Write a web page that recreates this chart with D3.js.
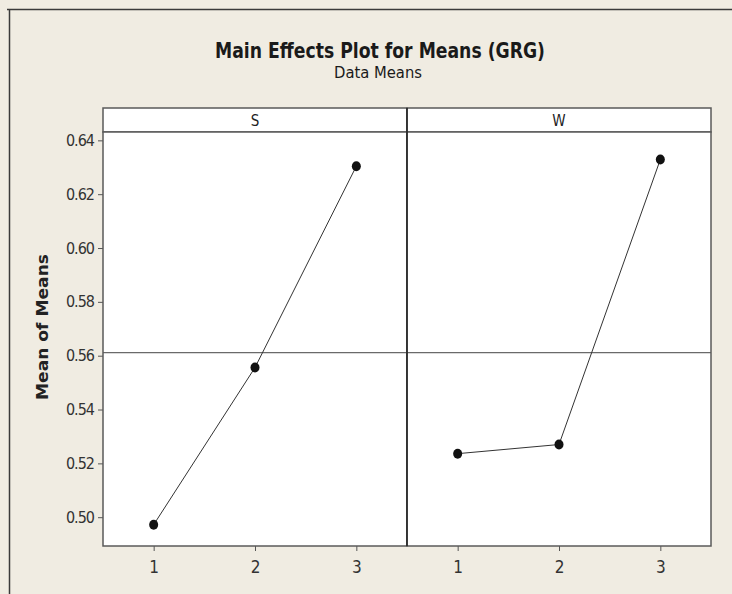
<!DOCTYPE html>
<html>
<head>
<meta charset="utf-8">
<script src="https://cdn.jsdelivr.net/npm/d3@7"></script>
<style>
  body { margin: 0; background: #f0ece2; }
  svg { display: block; }
</style>
</head>
<body>
<div id="chart"></div>
<script>
// factors and their level means
const factors = ["S", "W"];
const levels = [1, 2, 3];
const sMeans = [0.4972, 0.5556, 0.6304];
const wMeans = [0.5236, 0.5270, 0.6329];
const yTicks = [0.50, 0.52, 0.54, 0.56, 0.58, 0.60, 0.62, 0.64];

const seriesByFactor = { S: sMeans, W: wMeans };
const grandMean = d3.mean(sMeans.concat(wMeans));

const width = 732, height = 594;
const margin = { top: 132, left: 103, right: 21, bottom: 48 };
const headerH = 24;
const panelW = (width - margin.left - margin.right) / factors.length;
const tickFont = "DejaVu Sans Condensed, DejaVu Sans";

const svg = d3.select("#chart").append("svg")
  .attr("width", width)
  .attr("height", height);

// outer frame
svg.append("rect").attr("width", width).attr("height", height).attr("fill", "#f0ece2");
svg.append("path")
  .attr("d", `M7,9.5H${width}M9.5,9V${height}`)
  .attr("stroke", "#3a3a3a").attr("stroke-width", 1.5).attr("fill", "none");

// titles
svg.append("text")
  .attr("x", 380).attr("y", 58)
  .attr("text-anchor", "middle")
  .attr("font-family", "DejaVu Sans Condensed, DejaVu Sans").attr("font-weight", "bold")
  .attr("font-size", 22)
  .attr("textLength", 330).attr("lengthAdjust", "spacingAndGlyphs")
  .attr("fill", "#1a1a1a")
  .text("Main Effects Plot for Means (GRG)");

svg.append("text")
  .attr("x", 378).attr("y", 78)
  .attr("text-anchor", "middle")
  .attr("font-family", "DejaVu Sans Condensed, DejaVu Sans")
  .attr("font-size", 15)
  .attr("textLength", 88).attr("lengthAdjust", "spacingAndGlyphs")
  .attr("fill", "#1a1a1a")
  .text("Data Means");

const y = d3.scaleLinear()
  .domain([0.4893, 0.6431])
  .range([height - margin.bottom, margin.top]);

// y axis label
svg.append("text")
  .attr("transform", "translate(48,327) rotate(-90)")
  .attr("text-anchor", "middle")
  .attr("font-family", "DejaVu Sans").attr("font-weight", "bold")
  .attr("font-size", 16)
  .attr("textLength", 146).attr("lengthAdjust", "spacingAndGlyphs")
  .attr("fill", "#222")
  .text("Mean of Means");

// y axis
const yAxis = svg.append("g")
  .attr("transform", `translate(${margin.left},0)`)
  .call(d3.axisLeft(y).tickValues(yTicks).tickFormat(d3.format(".2f")).tickSize(5).tickPadding(4));
yAxis.select(".domain").remove();
yAxis.selectAll(".tick line").attr("stroke", "#555");
yAxis.selectAll(".tick text")
  .attr("font-family", tickFont)
  .attr("font-size", 16).attr("fill", "#333")
  .attr("letter-spacing", -1);

factors.forEach((f, i) => {
  const x0 = margin.left + i * panelW;
  const x = d3.scaleLinear().domain([0.5, 3.5]).range([x0, x0 + panelW]);
  const g = svg.append("g");

  // header strip
  g.append("rect")
    .attr("x", x0).attr("y", margin.top - headerH)
    .attr("width", panelW).attr("height", headerH)
    .attr("fill", "#fff").attr("stroke", "#5a5a5a").attr("stroke-width", 1.5);
  g.append("text")
    .attr("x", x0 + panelW / 2).attr("y", margin.top - 6)
    .attr("text-anchor", "middle")
    .attr("font-family", tickFont)
    .attr("font-size", 15).attr("fill", "#222")
    .text(f);

  // plot area
  g.append("rect")
    .attr("x", x0).attr("y", margin.top)
    .attr("width", panelW).attr("height", height - margin.bottom - margin.top)
    .attr("fill", "#fff");

  // reference line at the overall mean
  g.append("line")
    .attr("x1", x0).attr("x2", x0 + panelW)
    .attr("y1", y(grandMean)).attr("y2", y(grandMean))
    .attr("stroke", "#6a6a6a").attr("stroke-width", 1.2);

  const pts = levels.map((l, k) => [l, seriesByFactor[f][k]]);

  g.append("path")
    .datum(pts)
    .attr("d", d3.line().x(d => x(d[0])).y(d => y(d[1])))
    .attr("fill", "none").attr("stroke", "#333").attr("stroke-width", 1);

  g.selectAll("ellipse")
    .data(pts)
    .enter().append("ellipse")
    .attr("cx", d => x(d[0])).attr("cy", d => y(d[1]))
    .attr("rx", 4.5).attr("ry", 5)
    .attr("fill", "#111");

  // x axis
  const xAxis = g.append("g")
    .attr("transform", `translate(0,${height - margin.bottom})`)
    .call(d3.axisBottom(x).tickValues(levels).tickFormat(d3.format("d")).tickSize(5).tickPadding(10));
  xAxis.select(".domain").remove();
  xAxis.selectAll(".tick line").attr("stroke", "#555");
  xAxis.selectAll(".tick text")
    .attr("font-family", tickFont)
    .attr("font-size", 17).attr("fill", "#333");

  // panel border
  g.append("rect")
    .attr("x", x0).attr("y", margin.top)
    .attr("width", panelW).attr("height", height - margin.bottom - margin.top)
    .attr("fill", "none").attr("stroke", "#5a5a5a").attr("stroke-width", 1.5);
});

// darker divider between panels
svg.append("line")
  .attr("x1", margin.left + panelW).attr("x2", margin.left + panelW)
  .attr("y1", margin.top - headerH).attr("y2", height - margin.bottom)
  .attr("stroke", "#222").attr("stroke-width", 1.5);
</script>
</body>
</html>
